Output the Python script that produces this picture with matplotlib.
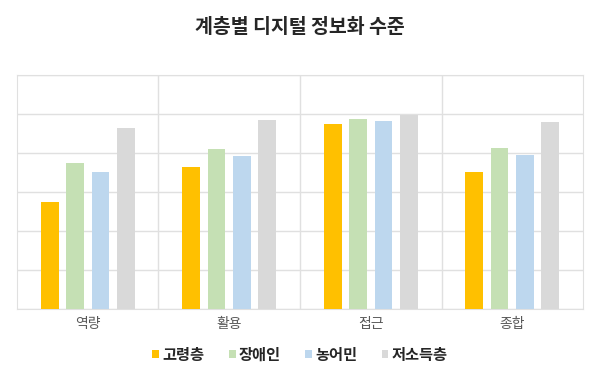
import numpy as np
import matplotlib.pyplot as plt

plt.rcParams['font.family'] = ['Noto Sans CJK KR', 'DejaVu Sans']

categories = ['역량', '활용', '접근', '종합']
series_names = ['고령층', '장애인', '농어민', '저소득층']
elderly = [54.7, 73.0, 95.0, 70.3]
disabled = [75.0, 82.1, 97.4, 82.4]
farmers = [70.4, 78.6, 96.4, 79.0]
low_income = [92.7, 96.9, 99.5, 95.7]
colors = ['#FFC000', '#C5E0B4', '#BDD7EE', '#D9D9D9']

fig = plt.figure(figsize=(6, 3.82), dpi=100)
ax = fig.add_axes([0.0283, 0.191, 0.9434, 0.613])

x = np.arange(len(categories))
pitch = 0.179
width = 0.124
for i, (vals, name, c) in enumerate(zip([elderly, disabled, farmers, low_income], series_names, colors)):
    ax.bar(x + (i - 1.5) * pitch, vals, width, color=c, label=name, zorder=3)

ax.set_xlim(-0.5, len(categories) - 0.5)
ax.set_ylim(0, 120)
ax.set_yticks(np.arange(0, 121, 20))
ax.set_yticklabels([])
ax.tick_params(axis='y', length=0)
ax.grid(axis='y', color='#E0E0E0', linewidth=1, zorder=0)
for b in np.arange(0.5, len(categories) - 0.5, 1):
    ax.axvline(b, color='#E0E0E0', linewidth=1, zorder=0)

ax.set_xticks(x)
ax.set_xticklabels(categories, fontsize=10, color='#595959')
ax.tick_params(axis='x', length=0, pad=6)
for s in ax.spines.values():
    s.set_color('#E0E0E0')

fig.text(0.5, 0.928, '계층별 디지털 정보화 수준', ha='center', va='center',
         fontsize=14, fontweight='bold', color='#262626')

ax.legend(loc='center', bbox_to_anchor=(0.5, -0.195), ncol=4, frameon=False,
          prop={'size': 11, 'weight': 'bold'}, labelcolor='#262626',
          handlelength=0.45, handleheight=0.45, handletextpad=0.2,
          columnspacing=1.6)

fig.savefig('out.png', dpi=100, facecolor='white')
